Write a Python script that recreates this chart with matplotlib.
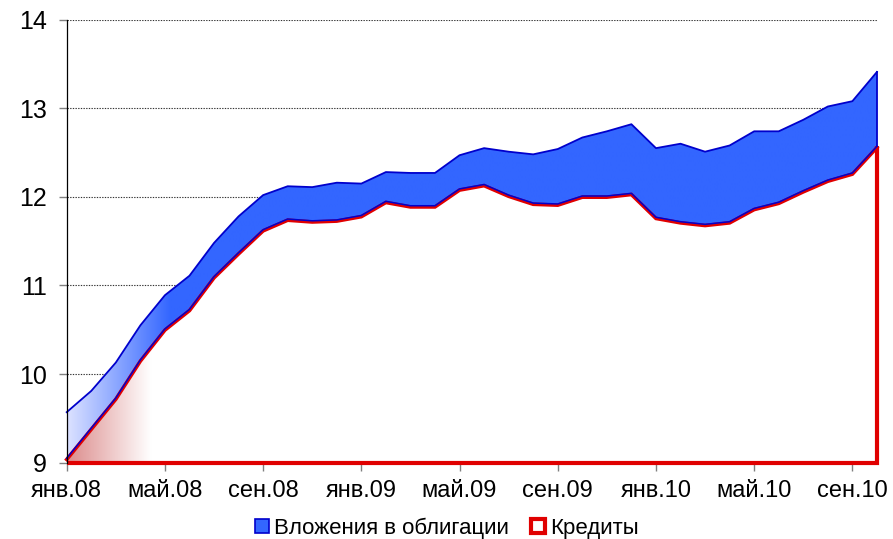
import numpy as np
import matplotlib
matplotlib.use("Agg")
import matplotlib.pyplot as plt
import matplotlib.transforms as mtransforms
from matplotlib.patches import Patch

plt.rcParams['font.family'] = ['Liberation Sans', 'DejaVu Sans']

# Monthly data, Jan 2008 - Oct 2010 (stacked: credits at the bottom, bonds on top)
months = ["янв.08", "фев.08", "мар.08", "апр.08", "май.08", "июн.08", "июл.08", "авг.08",
          "сен.08", "окт.08", "ноя.08", "дек.08", "янв.09", "фев.09", "мар.09", "апр.09",
          "май.09", "июн.09", "июл.09", "авг.09", "сен.09", "окт.09", "ноя.09", "дек.09",
          "янв.10", "фев.10", "мар.10", "апр.10", "май.10", "июн.10", "июл.10", "авг.10",
          "сен.10", "окт.10"]
credits = [9.05, 9.39, 9.73, 10.16, 10.51, 10.73, 11.10, 11.37,
           11.63, 11.75, 11.73, 11.74, 11.79, 11.95, 11.90, 11.90,
           12.09, 12.14, 12.02, 11.93, 11.92, 12.01, 12.01, 12.04,
           11.77, 11.72, 11.69, 11.72, 11.87, 11.94, 12.07, 12.19,
           12.27, 12.57]
bonds = [0.52, 0.42, 0.40, 0.39, 0.38, 0.38, 0.38, 0.41,
         0.39, 0.37, 0.38, 0.42, 0.36, 0.33, 0.37, 0.37,
         0.38, 0.41, 0.49, 0.55, 0.62, 0.66, 0.73, 0.78,
         0.78, 0.88, 0.82, 0.86, 0.87, 0.80, 0.80, 0.83,
         0.81, 0.84]
tick_every = 4
y_ticks = [9, 10, 11, 12, 13, 14]
series_names = ["Вложения в облигации", "Кредиты"]

BLUE = "#3366FF"
NAVY = "#0000CC"
RED = "#E00000"

x = np.arange(len(months))
base = np.array(credits)
top = base + np.array(bonds)

fig = plt.figure(figsize=(8.93, 5.39), dpi=100)
ax = fig.add_axes([0.0747, 0.1416, 0.982 - 0.0747, 0.9635 - 0.1416])
ymin, ymax = y_ticks[0], y_ticks[-1]
xmax = x[-1]


def gradient_fill(y_lo, y_hi, c0, c1, x_end, z):
    poly = ax.fill_between(x, y_lo, y_hi, facecolor="none", edgecolor="none", zorder=z)
    xs = np.linspace(0, xmax, 800)
    t = np.clip(xs / x_end, 0, 1)[:, None]
    c0 = np.array(matplotlib.colors.to_rgb(c0))
    c1 = np.array(matplotlib.colors.to_rgb(c1))
    rgb = (1 - t) * c0 + t * c1
    im = ax.imshow(rgb[None, :, :], extent=(0, xmax, ymin, ymax), aspect="auto",
                   origin="lower", zorder=z, interpolation="bilinear")
    im.set_clip_path(poly.get_paths()[0], transform=ax.transData)


# bonds band (on top of credits)
gradient_fill(base, top, "#DCE2FF", BLUE, 4.2, 2)
# credits area
gradient_fill(np.full_like(base, ymin), base, "#DC8C8C", "#FFFFFF", 3.4, 3)

# credits outline: shifted down a pixel so the band edge sits above it
down = mtransforms.offset_copy(ax.transData, fig=fig, x=0, y=-1.2, units="dots")
ax.plot(x, base, color=RED, lw=2.6, transform=down, zorder=4, solid_joinstyle="miter",
        clip_on=False)
ax.plot([0, xmax, xmax], [ymin, ymin, base[-1]], color=RED, lw=3.0, zorder=4,
        clip_on=False, solid_joinstyle="miter", solid_capstyle="butt")

# bonds outline
ax.plot(x, top, color=NAVY, lw=1.3, zorder=5, clip_on=False)
ax.plot(x, base, color=NAVY, lw=1.1, zorder=5, clip_on=False)
ax.plot([xmax, xmax], [base[-1], top[-1]], color=NAVY, lw=1.3, zorder=5, clip_on=False)

ax.set_xlim(0, xmax)
ax.set_ylim(ymin, ymax)

# grid
for v in y_ticks[1:]:
    ax.axhline(v, color="#333333", lw=0.8, ls=(0, (1.2, 1.2)), zorder=1)

ax.set_yticks(y_ticks)
ax.set_yticklabels([str(v) for v in y_ticks])
ax.set_xticks(x[::tick_every])
ax.set_xticklabels(months[::tick_every])

for s in ["top", "right", "bottom"]:
    ax.spines[s].set_visible(False)
ax.spines["left"].set_color("black")
ax.spines["left"].set_linewidth(0.9)
ax.spines["left"].set_zorder(6)

ax.tick_params(axis="y", length=5.5, width=1, color="#808080", pad=9, labelsize=18)
ax.tick_params(axis="x", length=5.5, width=1, color="#808080", pad=7, labelsize=17)

handles = [Patch(facecolor=BLUE, edgecolor=NAVY, lw=1.2),
           Patch(facecolor="white", edgecolor=RED, lw=3)]
fig.legend(handles, series_names, loc="center", bbox_to_anchor=(0.5, 0.02), ncol=2,
           frameon=False, fontsize=16, handlelength=0.65, handleheight=0.65,
           handletextpad=0.2, columnspacing=1.0, borderaxespad=0)

fig.savefig("out.png", dpi=100)
